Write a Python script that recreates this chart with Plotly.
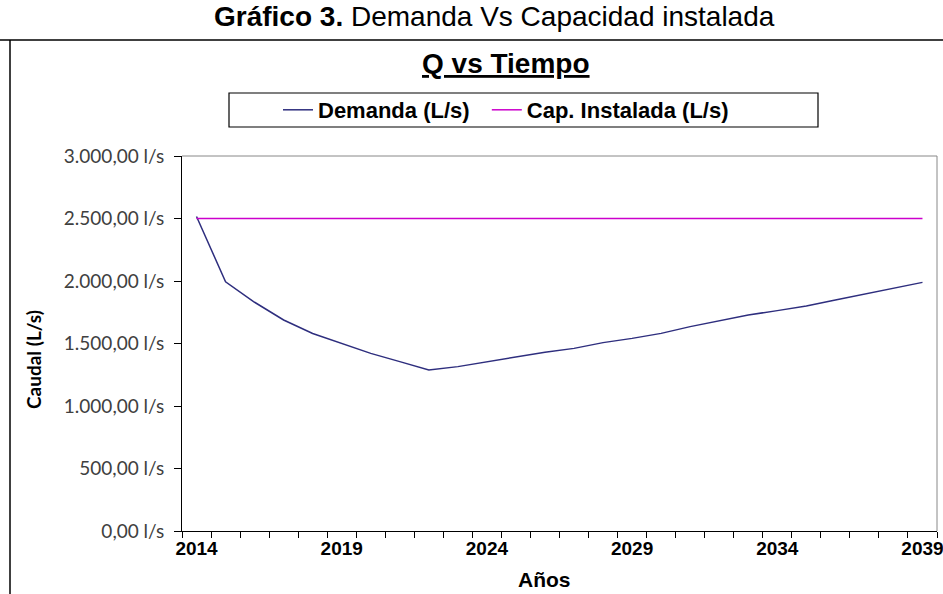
import plotly.graph_objects as go

years = list(range(2014, 2040))
demanda = [2516, 1994, 1830, 1688, 1580, 1501, 1421, 1355, 1288, 1315, 1355, 1395,
           1430, 1461, 1507, 1541, 1581, 1635, 1683, 1728, 1763, 1800, 1848, 1896,
           1941, 1989]
capacidad = [2500] * len(years)

y_tick_vals = [0, 500, 1000, 1500, 2000, 2500, 3000]
y_tick_text = ["0,00 l/s", "500,00 l/s", "1.000,00 l/s", "1.500,00 l/s",
               "2.000,00 l/s", "2.500,00 l/s", "3.000,00 l/s"]
x_tick_vals = [2014, 2019, 2024, 2029, 2034, 2039]
x_tick_text = [str(v) for v in x_tick_vals]

W, H = 943, 594
L, R, T, B = 182, 937, 156, 531


def px(x):
    return (x - L) / (R - L)


def py(y):
    return (B - y) / (B - T)


NB = "\u00a0"
fig = go.Figure()
fig.add_trace(go.Scatter(x=years, y=demanda, mode="lines", name="Demanda (L/s)" + NB * 2,
                         line=dict(color="#2E2E7E", width=1.5)))
fig.add_trace(go.Scatter(x=years, y=capacidad, mode="lines", name="Cap. Instalada (L/s)",
                         line=dict(color="#CC00CC", width=1.5)))

arial = "Liberation Sans, Arial, sans-serif"
calibri = "Lato, Carlito, Calibri, sans-serif"

fig.update_layout(
    width=W, height=H, autosize=False,
    margin=dict(l=L, r=W - R, t=T, b=H - B, pad=0, autoexpand=False),
    paper_bgcolor="white", plot_bgcolor="white",
    showlegend=True,
    legend=dict(orientation="h", x=px(278), xanchor="left", y=py(110), yanchor="middle",
                bgcolor="rgba(0,0,0,0)", borderwidth=0, itemwidth=30,
                font=dict(family=arial, size=22, color="black", weight="bold"),
                itemclick=False, itemdoubleclick=False),
    xaxis=dict(range=[2013.5, 2039.5], tickvals=x_tick_vals, ticktext=x_tick_text,
               ticks="outside", ticklen=0, ticklabeloverflow="allow", automargin=False,
               showgrid=False, zeroline=False, showline=True, linecolor="black", linewidth=1,
               tickfont=dict(family=arial, size=19, color="black", weight="bold"),
               minor=dict(ticks="outside", tick0=2013.5, dtick=1, ticklen=6,
                          tickcolor="black", tickwidth=1, showgrid=False)),
    yaxis=dict(range=[0, 3000], tickvals=y_tick_vals, ticktext=y_tick_text, automargin=False,
               ticks="outside", ticklen=7, tickcolor="black", ticklabelstandoff=6,
               showgrid=False, zeroline=False, showline=True, linecolor="black", linewidth=1,
               tickfont=dict(family=calibri, size=19, color="#404040")),
)

shapes = [
    # plot area top and right border
    dict(type="line", xref="paper", yref="paper", x0=0, x1=1, y0=1, y1=1,
         line=dict(color="#888888", width=1)),
    dict(type="line", xref="paper", yref="paper", x0=1, x1=1, y0=0, y1=1,
         line=dict(color="#888888", width=1)),
    # outer chart frame
    dict(type="line", xref="paper", yref="paper", x0=px(0), x1=px(W + 5), y0=py(40), y1=py(40),
         line=dict(color="black", width=1.5)),
    dict(type="line", xref="paper", yref="paper", x0=px(10), x1=px(10), y0=py(40), y1=py(H + 5),
         line=dict(color="black", width=1.5)),
    # legend box
    dict(type="rect", xref="paper", yref="paper", x0=px(229), x1=px(818), y0=py(127), y1=py(93),
         line=dict(color="black", width=1.2)),
]
fig.update_layout(shapes=shapes)

annotations = [
    dict(text="<b>Gráfico 3.</b> Demanda Vs Capacidad instalada", x=px(494), y=py(16),
         xref="paper", yref="paper", showarrow=False, xanchor="center", yanchor="middle",
         font=dict(family=arial, size=28, color="black")),
    dict(text="<b><u>Q vs Tiempo</u></b>", x=px(506), y=py(63),
         xref="paper", yref="paper", showarrow=False, xanchor="center", yanchor="middle",
         font=dict(family=arial, size=28, color="black")),
    dict(text="<b>Caudal (L/s)</b>", x=px(33), y=py(360), textangle=-90,
         xref="paper", yref="paper", showarrow=False, xanchor="center", yanchor="middle",
         font=dict(family=calibri, size=19, color="black")),
    dict(text="<b>Años</b>", x=px(544), y=py(579),
         xref="paper", yref="paper", showarrow=False, xanchor="center", yanchor="middle",
         font=dict(family=arial, size=21, color="black")),
]
fig.update_layout(annotations=annotations)

fig.write_html("out.html", config={"displayModeBar": False},
               post_script="document.body.style.margin='0';document.body.style.overflow='hidden';")
